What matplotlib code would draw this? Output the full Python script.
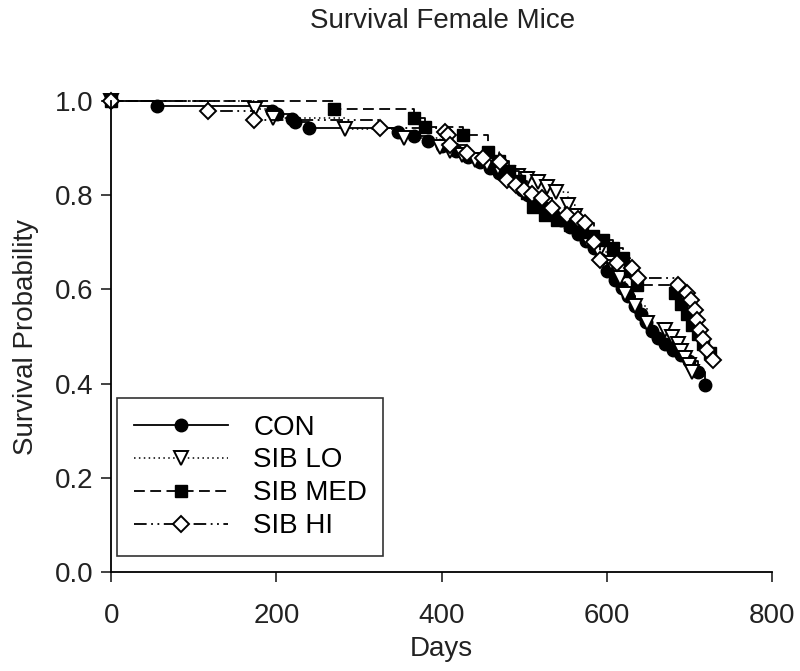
import matplotlib
matplotlib.use("Agg")
import matplotlib.pyplot as plt

plt.rcParams["font.family"] = ["Liberation Sans", "DejaVu Sans"]

# Kaplan-Meier event times (days) and survival probability after each event
con_days = [0, 56, 195, 201, 219, 223, 240, 347, 366, 384, 400, 418, 432, 447,
            458, 470, 482, 490, 497, 505, 515, 525, 535, 545, 556, 565, 575,
            585, 592, 600, 610, 618, 626, 634, 641, 648, 655, 662, 670, 680,
            690, 700, 711, 719]
con_surv = [1.0, 0.990, 0.979, 0.972, 0.962, 0.955, 0.943, 0.934, 0.925, 0.915,
            0.905, 0.893, 0.882, 0.870, 0.858, 0.848, 0.836, 0.825, 0.812,
            0.800, 0.787, 0.772, 0.760, 0.747, 0.733, 0.718, 0.703, 0.688,
            0.664, 0.640, 0.620, 0.603, 0.585, 0.565, 0.548, 0.530, 0.512,
            0.496, 0.484, 0.472, 0.460, 0.448, 0.425, 0.398]

lo_days = [0, 174, 196, 283, 354, 398, 410, 425, 440, 455, 468, 480, 492, 503,
           517, 528, 538, 553, 562, 570, 576, 590, 605, 616, 622, 634, 649,
           671, 679, 686, 690, 695, 699, 703]
lo_surv = [1.0, 0.983, 0.964, 0.940, 0.921, 0.902, 0.893, 0.885, 0.875, 0.866,
           0.857, 0.848, 0.840, 0.835, 0.828, 0.818, 0.807, 0.779, 0.755,
           0.730, 0.705, 0.680, 0.655, 0.625, 0.590, 0.565, 0.528, 0.514,
           0.500, 0.485, 0.470, 0.455, 0.440, 0.425]

med_days = [0, 270, 366, 380, 426, 456, 470, 482, 494, 503, 511, 525, 540, 556,
            570, 583, 596, 608, 620, 628, 637, 683, 690, 697, 703, 710, 717,
            725]
med_surv = [1.0, 0.983, 0.964, 0.945, 0.928, 0.892, 0.872, 0.852, 0.830, 0.805,
            0.775, 0.758, 0.748, 0.737, 0.722, 0.714, 0.705, 0.688, 0.667,
            0.640, 0.609, 0.592, 0.570, 0.548, 0.525, 0.505, 0.485, 0.465]

hi_days = [0, 117, 173, 326, 404, 408, 410, 431, 450, 471, 479, 490, 500, 510,
           522, 534, 552, 565, 574, 584, 592, 612, 631, 638, 686, 697, 702,
           707, 709, 713, 717, 721, 728]
hi_surv = [1.0, 0.979, 0.960, 0.943, 0.935, 0.928, 0.906, 0.889, 0.878, 0.870,
           0.832, 0.822, 0.812, 0.803, 0.794, 0.773, 0.758, 0.750, 0.741,
           0.700, 0.662, 0.655, 0.645, 0.624, 0.609, 0.592, 0.577, 0.556,
           0.535, 0.514, 0.495, 0.471, 0.450]

labels = ["CON", "SIB LO", "SIB MED", "SIB HI"]

FS = 20
INK = "#222222"

fig = plt.figure(figsize=(8.0, 6.71), dpi=100)
ax = fig.add_axes([0.139, 0.1475, 0.826, 0.702])

ax.plot(con_days, con_surv, drawstyle="steps-post", color="black", lw=1.3,
        ls="-", marker="o", ms=9, mfc="black", mec="black",
        clip_on=False, label=labels[0])
ax.plot(lo_days, lo_surv, drawstyle="steps-post", color="black", lw=1.1,
        ls=(0, (1, 2.2)), marker="v", ms=10, mfc="white", mec="black", mew=1.4,
        clip_on=False, label=labels[1])
ax.plot(med_days, med_surv, drawstyle="steps-post", color="black", lw=1.3,
        ls=(0, (6, 3)), marker="s", ms=9, mfc="black", mec="black",
        clip_on=False, label=labels[2])
ax.plot(hi_days, hi_surv, drawstyle="steps-post", color="black", lw=1.3,
        ls=(0, (7, 2.5, 1, 2.5, 1, 2.5)), marker="D", ms=8.5, mfc="white",
        mec="black", mew=1.4, clip_on=False, label=labels[3])

ax.set_xlim(0, 800)
ax.set_ylim(0, 1.0)
ax.set_xticks([0, 200, 400, 600, 800])
ax.set_yticks([0.0, 0.2, 0.4, 0.6, 0.8, 1.0])
ax.set_yticklabels(["0.0", "0.2", "0.4", "0.6", "0.8", "1.0"])
for s in ["top", "right"]:
    ax.spines[s].set_visible(False)
for s in ["left", "bottom"]:
    ax.spines[s].set_linewidth(1.3)
ax.tick_params(direction="out", length=7, width=1.2, labelsize=FS,
               colors=INK)
ax.tick_params(axis="x", pad=15)
ax.tick_params(axis="y", pad=6)
ax.set_xlabel("Days", fontsize=FS, labelpad=5, color=INK)
ax.set_ylabel("Survival Probability", fontsize=FS, labelpad=11, color=INK)
fig.text(0.553, 0.968, "Survival Female Mice", ha="center", va="center",
         fontsize=FS, color=INK)

leg = ax.legend(loc="lower left", bbox_to_anchor=(0.009, 0.034, 0.402, 0.35),
                mode="expand", numpoints=1, fontsize=FS, frameon=True,
                fancybox=False, edgecolor="black", handlelength=3.4,
                handletextpad=0.9, borderpad=0.6, labelspacing=0.25,
                borderaxespad=0)
leg.get_frame().set_linewidth(1.2)

fig.savefig("out.png", dpi=100, facecolor="white")
